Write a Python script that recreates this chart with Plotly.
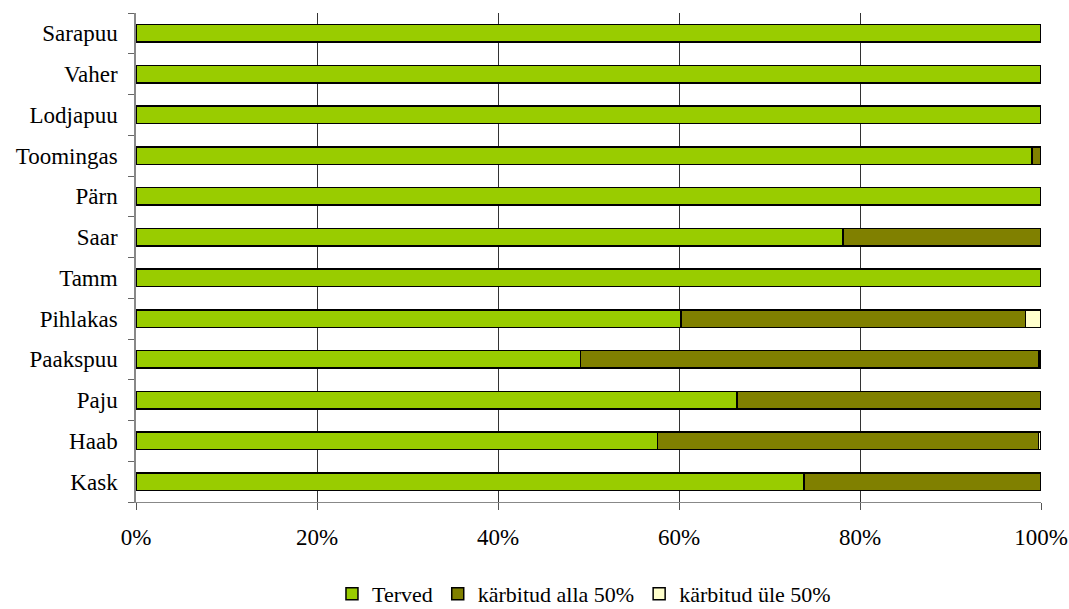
import plotly.graph_objects as go

categories = ["Kask", "Haab", "Paju", "Paakspuu", "Pihlakas", "Tamm",
              "Saar", "Pärn", "Toomingas", "Lodjapuu", "Vaher", "Sarapuu"]
terved = [73.8, 57.6, 66.4, 49.1, 60.2, 100, 78.1, 100, 99.0, 100, 100, 100]
alla50 = [26.2, 42.1, 33.6, 50.7, 38.1, 0, 21.9, 0, 1.0, 0, 0, 0]
yle50 = [0, 0.3, 0, 0.2, 1.7, 0, 0, 0, 0, 0, 0, 0]
xtick_vals = [0, 20, 40, 60, 80, 100]
xtick_text = ["0%", "20%", "40%", "60%", "80%", "100%"]

series = [
    ("Terved", terved, "#99CC00"),
    ("kärbitud alla 50%", alla50, "#808000"),
    ("kärbitud üle 50%", yle50, "#FFFFCC"),
]

FONT = "Liberation Serif"

fig = go.Figure()
for name, vals, col in series:
    fig.add_trace(go.Bar(
        y=categories, x=vals, name=name, orientation="h",
        marker=dict(color=col, line=dict(color="black", width=1.5)),
    ))

fig.update_layout(
    barmode="stack",
    bargap=0.57,
    width=1069, height=609,
    margin=dict(l=136, r=28, t=13, b=107, autoexpand=False),
    paper_bgcolor="white", plot_bgcolor="white",
    font=dict(family=FONT, size=23, color="black"),
    showlegend=True,
    legend=dict(orientation="h", x=0.495, xanchor="center", y=-0.145, yanchor="top",
                font=dict(family=FONT, size=22, color="black"), traceorder="normal",
                itemwidth=30, tracegroupgap=0),
)
fig.update_xaxes(
    range=[0, 100], tickvals=xtick_vals, ticktext=xtick_text,
    showgrid=True, gridcolor="#333333", gridwidth=1,
    showline=True, linecolor="#888888", linewidth=1,
    ticks="outside", ticklen=7, tickcolor="#555555",
    ticklabelstandoff=7, zeroline=False, automargin=False,
    tickfont=dict(family=FONT, size=23),
)
fig.update_yaxes(
    type="category", categoryorder="array", categoryarray=categories,
    showline=True, linecolor="#888888", linewidth=1.5,
    ticks="outside", ticklen=6, tickcolor="#666666", tickson="boundaries",
    ticklabelstandoff=12, showgrid=False, automargin=False,
    tickfont=dict(family=FONT, size=23),
)

fig.write_html("out.html")
